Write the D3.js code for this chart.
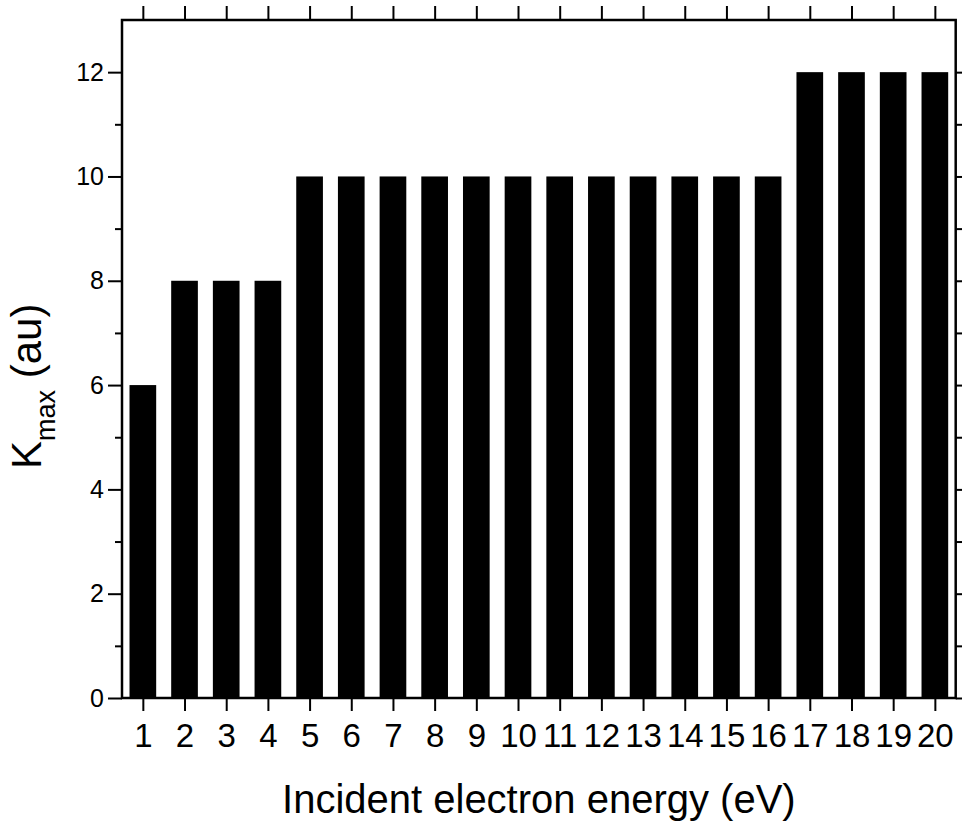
<!DOCTYPE html>
<html>
<head>
<meta charset="utf-8">
<script src="https://cdn.jsdelivr.net/npm/d3@7"></script>
<style>
  html, body { margin: 0; padding: 0; background: #fff; }
  svg { display: block; font-family: "Liberation Sans", Arial, sans-serif; }
</style>
</head>
<body>
<svg id="chart" width="962" height="826"></svg>
<script>
// ---- data ----
const energies = [1,2,3,4,5,6,7,8,9,10,11,12,13,14,15,16,17,18,19,20];
const kmax = [6,8,8,8,10,10,10,10,10,10,10,10,10,10,10,10,12,12,12,12];
const yMajorTicks = [0,2,4,6,8,10,12];
const yMinorTicks = [1,3,5,7,9,11];
const xTitle = "Incident electron energy (eV)";
const yTitleMain = "K";
const yTitleSub = "max";
const yTitleTail = " (au)";

// ---- layout ----
const L = 122, R = 955.7, T = 20, B = 698;
const svg = d3.select("#chart");

const x = d3.scaleLinear().domain([0.5, 20.5]).range([L, R]);
const y = d3.scaleLinear().domain([0, 13]).range([B, T]);
const barW = 0.64;

// bars
svg.append("g").selectAll("rect").data(energies).join("rect")
  .attr("x", (d) => x(d - barW/2))
  .attr("width", (d) => x(d + barW/2) - x(d - barW/2))
  .attr("y", (d,i) => y(kmax[i]))
  .attr("height", (d,i) => y(0) - y(kmax[i]))
  .attr("fill", "#000");

function styleAxis(g, fontSize) {
  g.attr("font-size", null).attr("font-family", null);
  g.select(".domain").remove();
  g.selectAll(".tick line").attr("stroke", "#000").attr("stroke-width", 2);
  g.selectAll(".tick text").attr("fill", "#000").style("font-size", fontSize + "px")
    .style("font-family", '"Liberation Sans", Arial, sans-serif');
}

// bottom axis
const gB = svg.append("g").attr("transform", `translate(0,${B})`)
  .call(d3.axisBottom(x).tickValues(energies).tickFormat(d3.format("d")).tickSize(13).tickPadding(13));
styleAxis(gB, 33);

// top axis
const gT = svg.append("g").attr("transform", `translate(0,${T})`)
  .call(d3.axisTop(x).tickValues(energies).tickFormat("").tickSize(14));
styleAxis(gT, 0);

// left axis
const gL = svg.append("g").attr("transform", `translate(${L},0)`)
  .call(d3.axisLeft(y).tickValues(yMajorTicks).tickFormat(d3.format("d")).tickSize(14).tickPadding(4));
styleAxis(gL, 25);
const gLm = svg.append("g").attr("transform", `translate(${L},0)`)
  .call(d3.axisLeft(y).tickValues(yMinorTicks).tickFormat("").tickSize(7));
styleAxis(gLm, 0);

// right axis
const gR = svg.append("g").attr("transform", `translate(${R},0)`)
  .call(d3.axisRight(y).tickValues(yMajorTicks).tickFormat("").tickSize(14));
styleAxis(gR, 0);
const gRm = svg.append("g").attr("transform", `translate(${R},0)`)
  .call(d3.axisRight(y).tickValues(yMinorTicks).tickFormat("").tickSize(7));
styleAxis(gRm, 0);

// frame
svg.append("rect").attr("x", L).attr("y", T).attr("width", R - L).attr("height", B - T)
  .attr("fill", "none").attr("stroke", "#000").attr("stroke-width", 2.5);

// x title
svg.append("text").attr("x", (L + R) / 2).attr("y", 813)
  .attr("text-anchor", "middle").attr("font-size", 40).attr("fill", "#000")
  .text(xTitle);

// y title
const yt = svg.append("text")
  .attr("transform", "translate(41,469) rotate(-90)")
  .attr("text-anchor", "start").attr("font-size", 42).attr("fill", "#000");
yt.append("tspan").text(yTitleMain);
yt.append("tspan").attr("font-size", 27).attr("dy", 14).text(yTitleSub);
yt.append("tspan").attr("dy", -14).text(yTitleTail);
</script>
</body>
</html>
